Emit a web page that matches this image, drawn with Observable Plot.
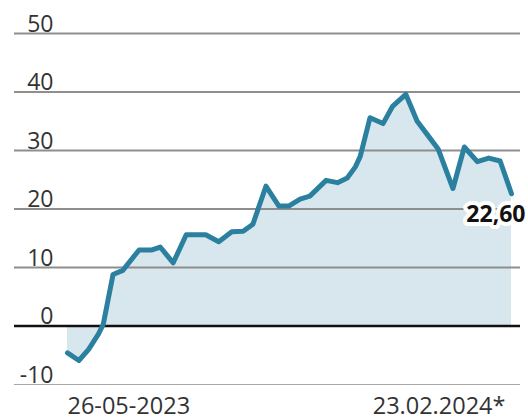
<!DOCTYPE html>
<html>
<head>
<meta charset="utf-8">
<script src="https://cdn.jsdelivr.net/npm/d3@7"></script>
<script src="https://cdn.jsdelivr.net/npm/@observablehq/plot@0.6"></script>
<style>
  html, body { margin: 0; padding: 0; background: #fff; }
  #chart svg { display: block; }
</style>
</head>
<body>
<div id="chart"></div>
<script>
const dates = ["2023-05-26","2023-06-02","2023-06-08","2023-06-14","2023-06-17","2023-06-23","2023-06-29","2023-07-09","2023-07-17","2023-07-22","2023-07-30","2023-08-07","2023-08-19","2023-08-27","2023-09-04","2023-09-11","2023-09-17","2023-09-25","2023-10-03","2023-10-09","2023-10-16","2023-10-22","2023-11-01","2023-11-08","2023-11-14","2023-11-19","2023-11-22","2023-11-28","2023-12-06","2023-12-12","2023-12-20","2023-12-27","2024-01-02","2024-01-09","2024-01-18","2024-01-25","2024-02-02","2024-02-09","2024-02-16","2024-02-23"];
const values = [-4.6,-5.9,-4.0,-1.4,0.3,8.8,9.5,13.0,13.0,13.5,10.8,15.6,15.6,14.4,16.1,16.2,17.4,23.9,20.5,20.5,21.7,22.2,24.9,24.5,25.3,27.2,29.0,35.6,34.6,37.6,39.6,35.0,32.8,30.2,23.5,30.6,28.1,28.7,28.2,22.6];
const yTicks = [-10, 0, 10, 20, 30, 40, 50];
const gridTicks = [10, 20, 30, 40, 50];
const startLabel = {date: "2023-05-26", text: "26-05-2023"};
const endLabel = {date: "2024-02-23", text: "23.02.2024*"};
const lastLabel = "22,60";

const toDate = s => new Date(s + "T00:00:00Z");
const data = dates.map((d, i) => ({date: toDate(d), value: values[i]}));
const last = data[data.length - 1];

const font = "'Open Sans', 'Noto Sans', sans-serif";
const lineColor = "#2b80a0";
const areaColor = "#d8e6ee";

const chart = Plot.plot({
  width: 528,
  height: 420,
  marginLeft: 14,
  marginRight: 8,
  marginTop: 33,
  marginBottom: 36,
  style: {fontFamily: font, background: "#fff"},
  x: {type: "utc", range: [67, 511], axis: null},
  y: {domain: [-10, 50], axis: null},
  marks: [
    Plot.areaY(data, {x: "date", y: "value", fill: areaColor}),
    Plot.ruleY(gridTicks, {stroke: "#8e8e8e", strokeWidth: 1.8}),
    Plot.ruleY([-10], {stroke: "#a8a8a8", strokeWidth: 1.2}),
    Plot.ruleY([0], {stroke: "#111", strokeWidth: 2.5}),
    Plot.axisY(yTicks, {
      anchor: "left", label: null, tickSize: 0, tickPadding: 0, dx: 39, dy: -2,
      lineAnchor: "bottom", fontSize: 23, fill: "#333",
      tickFormat: d => String(d), fontFamily: font
    }),
    Plot.text([startLabel], {
      x: d => toDate(d.date), frameAnchor: "bottom", text: "text", textAnchor: "start",
      lineAnchor: "bottom", dy: 29, fontSize: 23.5, fill: "#333", fontFamily: font
    }),
    Plot.text([endLabel], {
      x: d => toDate(d.date), frameAnchor: "bottom", text: "text", textAnchor: "end",
      lineAnchor: "bottom", dy: 29, dx: -6, fontSize: 23.5, fill: "#333", fontFamily: font
    }),
    Plot.text([last], {
      x: "date", y: "value", text: () => lastLabel, textAnchor: "end",
      lineAnchor: "middle", dx: 14, dy: 21, fontSize: 23, fontWeight: "bold",
      fill: "#111", stroke: "#fff", strokeWidth: 8, fontFamily: font
    }),
    Plot.line(data, {x: "date", y: "value", stroke: lineColor, strokeWidth: 5, strokeLinejoin: "round", strokeLinecap: "round"})
  ]
});
document.getElementById("chart").append(chart);
</script>
</body>
</html>
